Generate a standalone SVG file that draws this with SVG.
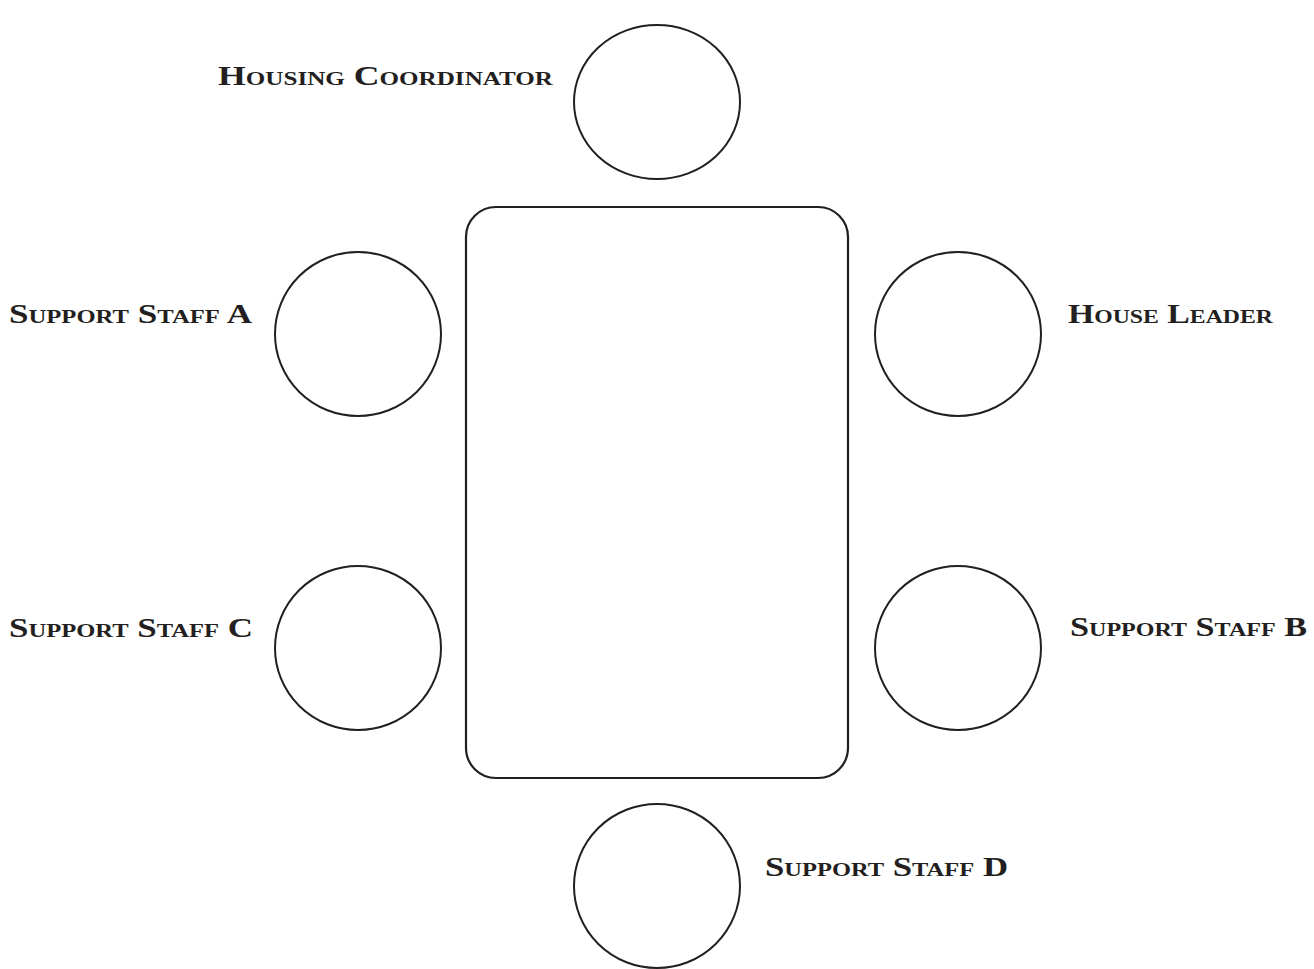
<svg xmlns="http://www.w3.org/2000/svg" width="1314" height="969" viewBox="0 0 1314 969">
<style>
.seat{fill:#fff;stroke:#231f20;stroke-width:2}
.table{fill:#fff;stroke:#231f20;stroke-width:2.2}
.lbl{font-family:"Liberation Serif","Times New Roman",serif;font-weight:bold;font-variant:small-caps;font-size:27px;fill:#231f20}
</style>
<rect width="1314" height="969" fill="#fff"/>
<g id="table"><rect class="table" x="466" y="207" width="382" height="571" rx="30" ry="30"/></g>
<g id="housing-coordinator"><ellipse class="seat" cx="657" cy="102" rx="83" ry="77"/><text class="lbl" x="218" y="85" textLength="335" lengthAdjust="spacingAndGlyphs">Housing Coordinator</text></g>
<g id="support-staff-a"><ellipse class="seat" cx="358" cy="334" rx="83" ry="82"/><text class="lbl" x="9" y="323" textLength="243" lengthAdjust="spacingAndGlyphs">Support Staff A</text></g>
<g id="house-leader"><ellipse class="seat" cx="958" cy="334" rx="83" ry="82"/><text class="lbl" x="1068" y="323" textLength="205" lengthAdjust="spacingAndGlyphs">House Leader</text></g>
<g id="support-staff-c"><ellipse class="seat" cx="358" cy="648" rx="83" ry="82"/><text class="lbl" x="9" y="637" textLength="244" lengthAdjust="spacingAndGlyphs">Support Staff C</text></g>
<g id="support-staff-b"><ellipse class="seat" cx="958" cy="648" rx="83" ry="82"/><text class="lbl" x="1070" y="636" textLength="237" lengthAdjust="spacingAndGlyphs">Support Staff B</text></g>
<g id="support-staff-d"><ellipse class="seat" cx="657" cy="886" rx="83" ry="82"/><text class="lbl" x="765" y="876" textLength="243" lengthAdjust="spacingAndGlyphs">Support Staff D</text></g>
<g id="connectors"></g>
</svg>
